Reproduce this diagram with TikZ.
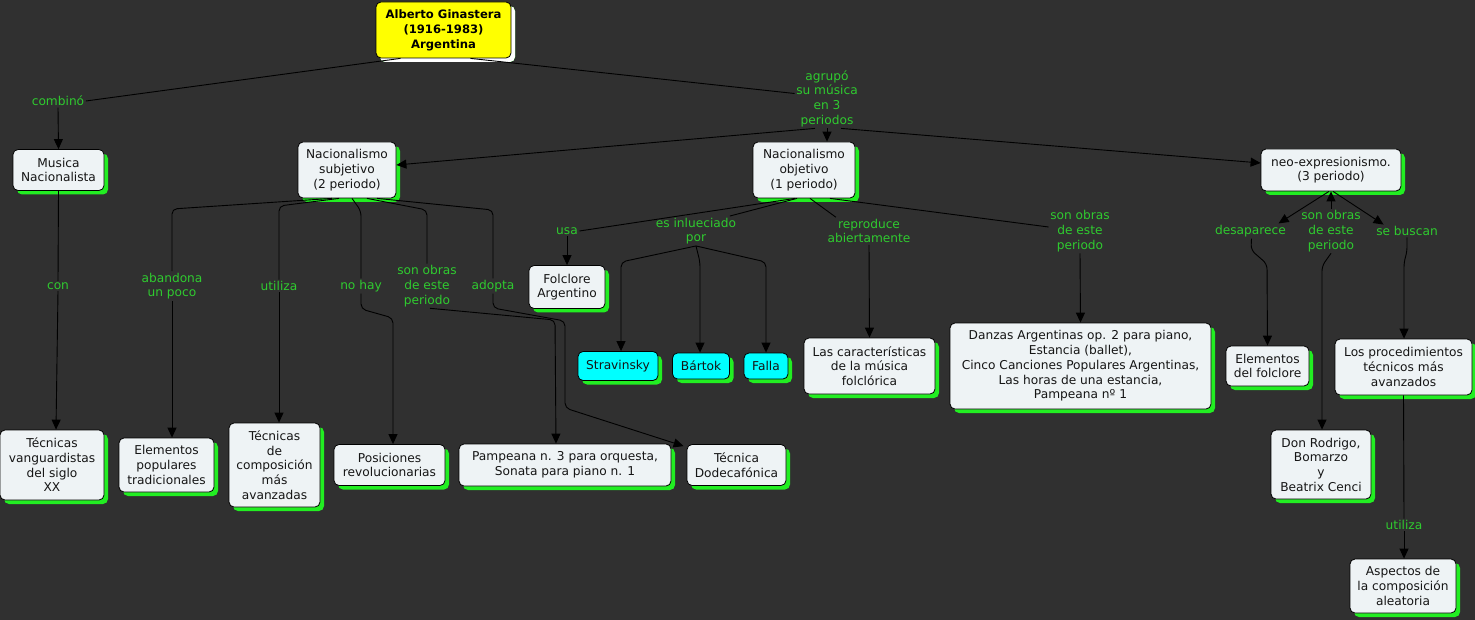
\documentclass[tikz,border=0pt]{standalone}
\usepackage{fontspec}
\setmainfont{DejaVu Sans}
\usetikzlibrary{arrows.meta,shadows}
\definecolor{bg}{HTML}{303030}
\definecolor{nfill}{HTML}{EEF3F5}
\definecolor{lgreen}{HTML}{2FCB2F}
\definecolor{sgreen}{HTML}{22EE22}
\definecolor{ncyan}{HTML}{00FFFF}
\definecolor{nyellow}{HTML}{FFFF00}
\definecolor{ntext}{HTML}{151515}
\begin{document}
\begin{tikzpicture}[x=1pt,y=-1pt,
  concept/.style={draw=black, line width=0.8pt, rounded corners=5pt, fill=nfill, text=ntext,
    align=center, inner sep=0pt, font=\fontsize{12.2}{14.7}\selectfont,
    drop shadow={shadow xshift=4pt,shadow yshift=-4pt,fill=sgreen,opacity=1}},
  cyanc/.style={concept, fill=ncyan},
  titlec/.style={concept, fill=nyellow, text=black, font=\bfseries\fontsize{11.6}{15}\selectfont,
    drop shadow={shadow xshift=4pt,shadow yshift=-4pt,fill=white,opacity=1}},
  lbl/.style={text=lgreen, align=center, inner sep=1.5pt, font=\fontsize{12.2}{14.7}\selectfont},
  link/.style={draw=black, line width=0.9pt, rounded corners=5pt},
  arr/.style={link, -{Triangle[length=10pt,width=9pt]}}
]
\useasboundingbox (0,0) rectangle (1475,620);
\fill[bg] (0,0) rectangle (1475,620);

% concepts
\node[titlec, minimum width=135pt, minimum height=56pt] (title) at (443.5,30) {Alberto Ginastera\\(1916-1983)\\Argentina};
\node[concept, minimum width=91pt, minimum height=41pt] (musica) at (58.5,170) {Musica\\Nacionalista};
\node[concept, minimum width=98pt, minimum height=56pt] (subj) at (347,170) {Nacionalismo\\subjetivo\\(2 periodo)};
\node[concept, minimum width=102pt, minimum height=56pt] (obj) at (804,170) {Nacionalismo\\objetivo\\(1 periodo)};
\node[concept, minimum width=140pt, minimum height=42pt] (neo) at (1331,170) {neo-expresionismo.\\(3 periodo)};
\node[concept, minimum width=104pt, minimum height=70pt] (tecvang) at (52,465) {Técnicas\\vanguardistas\\del siglo\\XX};
\node[concept, minimum width=95pt, minimum height=54pt] (elempop) at (166.5,465) {Elementos\\populares\\tradicionales};
\node[concept, minimum width=91pt, minimum height=84pt] (teccomp) at (274.5,465) {Técnicas\\de\\composición\\más\\avanzadas};
\node[concept, minimum width=111pt, minimum height=41pt] (posic) at (389.5,465) {Posiciones\\revolucionarias};
\node[concept, minimum width=212pt, minimum height=42pt] (pampeana) at (565,465) {Pampeana n. 3 para orquesta,\\Sonata para piano n. 1};
\node[concept, minimum width=99pt, minimum height=41pt] (dodeca) at (736.5,465) {Técnica\\Dodecafónica};
\node[concept, minimum width=76pt, minimum height=43pt] (folclore) at (567,287) {Folclore\\Argentino};
\node[cyanc, minimum width=80pt, minimum height=29pt] (strav) at (618,366) {Stravinsky};
\node[cyanc, minimum width=57pt, minimum height=26pt] (bartok) at (701,366) {Bártok};
\node[cyanc, minimum width=44pt, minimum height=26pt] (falla) at (766,366) {Falla};
\node[concept, minimum width=131pt, minimum height=56pt] (caract) at (869.5,366) {Las características\\de la música\\folclórica};
\node[concept, minimum width=261pt, minimum height=86pt] (danzas) at (1080.5,366) {Danzas Argentinas op. 2 para piano,\\Estancia (ballet),\\Cinco Canciones Populares Argentinas,\\Las horas de una estancia,\\Pampeana nº 1};
\node[concept, minimum width=83pt, minimum height=40pt] (elemfol) at (1267.5,366) {Elementos\\del folclore};
\node[concept, minimum width=137pt, minimum height=56pt] (procs) at (1403.5,367) {Los procedimientos\\técnicos más\\avanzados};
\node[concept, minimum width=100pt, minimum height=69pt] (donrod) at (1321,464.5) {Don Rodrigo,\\Bomarzo\\y\\Beatrix Cenci};
\node[concept, minimum width=106pt, minimum height=54pt] (aspectos) at (1403,586) {Aspectos de\\la composición\\aleatoria};

% linking phrases
\node[lbl] (combino) at (58,101) {combinó};
\node[lbl] (agrupo) at (827,98.5) {agrupó\\su música\\en 3\\periodos};
\node[lbl] (con) at (58,286) {con};
\node[lbl] (abandona) at (172,286) {abandona\\un poco};
\node[lbl] (utiliza1) at (279,286) {utiliza};
\node[lbl] (nohay) at (361,286) {no hay};
\node[lbl] (sonobras1) at (427,286) {son obras\\de este\\periodo};
\node[lbl] (adopta) at (493,286) {adopta};
\node[lbl] (usa) at (567,231) {usa};
\node[lbl] (esinf) at (696,231) {es inlueciado\\por};
\node[lbl] (reproduce) at (869,231) {reproduce\\abiertamente};
\node[lbl] (sonobras2) at (1080,231) {son obras\\de este\\periodo};
\node[lbl] (desaparece) at (1250.5,231) {desaparece};
\node[lbl] (sonobras3) at (1331,231) {son obras\\de este\\periodo};
\node[lbl] (sebuscan) at (1407,231) {se buscan};
\node[lbl] (utiliza2) at (1404,525) {utiliza};

% connectors
\draw[link] ([xshift=-43pt]title.south) -- (combino.east);
\draw[arr] (combino.south) -- (musica.north);
\draw[link] ([xshift=27pt]title.south) -- ([yshift=5pt]agrupo.west);
\draw[arr] (agrupo.south) -- (agrupo.south |- obj.north);
\draw[arr] ([xshift=-12pt]agrupo.south) -- ([yshift=5pt]subj.east);
\draw[arr] ([xshift=14pt]agrupo.south) -- ([yshift=7pt]neo.west);

\draw[link] (musica.south) -- (con.north);
\draw[arr] (con.south) -- ([xshift=4pt]tecvang.north);

\draw[link] ([xshift=-15pt]subj.south) -- (172,209) -- (abandona.north);
\draw[arr] (abandona.south) -- ([xshift=5.5pt]elempop.north);
\draw[link] ([xshift=-8pt]subj.south) -- (279,206) -- (utiliza1.north);
\draw[arr] (utiliza1.south) -- ([xshift=4.5pt]teccomp.north);
\draw[link] ([xshift=5pt]subj.south) -- (361,211) -- (nohay.north);
\draw[arr] (nohay.south) -- (361,309) -- (393,318) -- ([xshift=3.5pt]posic.north);
\draw[link] ([xshift=20pt]subj.south) -- (427,210) -- (sonobras1.north);
\draw[arr] ([xshift=3pt]sonobras1.south) -- (555,320) -- ([xshift=-9pt]pampeana.north);
\draw[link] ([xshift=30pt]subj.south) -- (493,210) -- (adopta.north);
\draw[arr] (adopta.south) -- (493,308) -- (565,321) -- (565,408) -- ([shift={(-3pt,-2pt)}]dodeca.north west);

\draw[link] ([xshift=-9pt]obj.south) -- (usa.east);
\draw[arr] (usa.south) -- (folclore.north);
\draw[link] ([xshift=-7pt]obj.south) -- ([xshift=-8pt]esinf.north east);
\draw[arr] (esinf.south) -- (621,262) -- ([xshift=3pt]strav.north);
\draw[arr] (esinf.south) -- (700,262) -- ([xshift=-1pt]bartok.north);
\draw[arr] (esinf.south) -- (766,262) -- (falla.north);
\draw[link] ([xshift=6pt]obj.south) -- ([xshift=10pt]reproduce.north west);
\draw[arr] (reproduce.south) -- (caract.north);
\draw[link] ([xshift=26pt]obj.south) -- ([yshift=4pt]sonobras2.west);
\draw[arr] (sonobras2.south) -- (danzas.north);

\draw[arr] (sonobras3.north) -- (neo.south);
\draw[arr] ([xshift=-2pt]neo.south) -- ([xshift=-9pt]desaparece.north east);
\draw[arr] ([xshift=2pt]neo.south) -- ([xshift=9pt]sebuscan.north west);
\draw[arr] ([xshift=1pt]desaparece.south) -- (1251,250) -- (1267,264) -- (elemfol.north);
\draw[arr] (sonobras3.south) -- (1322,266) -- ([xshift=1pt]donrod.north);
\draw[arr] (sebuscan.south) -- (1407,252) -- (1404,262) -- ([xshift=0.5pt]procs.north);
\draw[link] (procs.south) -- (utiliza2.north);
\draw[arr] (utiliza2.south) -- ([xshift=1pt]aspectos.north);
\end{tikzpicture}
\end{document}
